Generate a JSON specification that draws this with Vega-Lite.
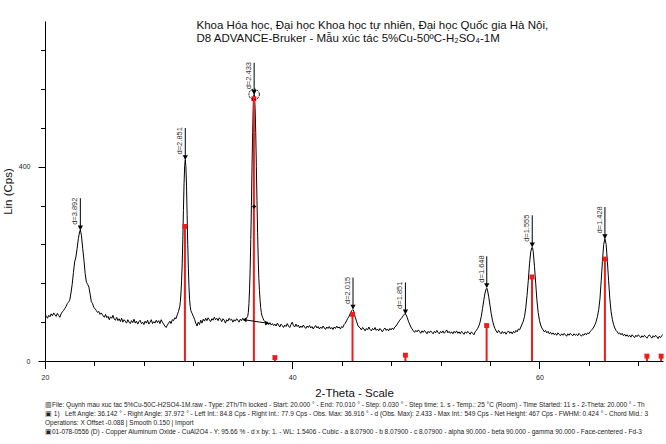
{
  "$schema": "https://vega.github.io/schema/vega-lite/v6.json",
  "width": 618,
  "height": 340,
  "autosize": "none",
  "padding": {"left": 45, "top": 21, "right": 3, "bottom": 83},
  "background": "white",
  "config": {
    "font": "Liberation Sans",
    "view": {"stroke": null},
    "axis": {"domainColor": "#000", "domainWidth": 1, "tickColor": "#000", "tickWidth": 1, "labelColor": "#222", "labelFont": "Liberation Sans", "titleFont": "Liberation Sans", "titleFontWeight": "normal", "titleColor": "#111", "grid": false, "labelOverlap": false, "labelFlush": false}
  },
  "title": {
    "text": [
      "▥File: Quynh mau xuc tac 5%Cu-50C-H2SO4-1M.raw - Type: 2Th/Th locked - Start: 20.000 ° - End: 70.010 ° - Step: 0.030 ° - Step time: 1. s - Temp.: 25 °C (Room) - Time Started: 11 s - 2-Theta: 20.000 ° - Th",
      "▣ 1)\u00a0\u00a0 Left Angle: 36.142 ° - Right Angle: 37.972 ° - Left Int.: 84.8 Cps - Right Int.: 77.9 Cps - Obs. Max: 36.916 ° - d (Obs. Max): 2.433 - Max Int.: 549 Cps - Net Height: 467 Cps - FWHM: 0.424 ° - Chord Mid.: 3",
      "\u00a0\u00a0\u00a0Operations: X Offset -0.088 | Smooth 0.150 | Import",
      "▣01-078-0556 (D) - Copper Aluminum Oxide - CuAl2O4 - Y: 95.66 % - d x by: 1. - WL: 1.5406 - Cubic - a 8.07900 - b 8.07900 - c 8.07900 - alpha 90.000 - beta 90.000 - gamma 90.000 - Face-centered - Fd-3"
    ],
    "orient": "bottom",
    "anchor": "start",
    "frame": "group",
    "font": "Liberation Sans",
    "fontSize": 6.5,
    "fontWeight": "normal",
    "color": "#222",
    "lineHeight": 8.9,
    "offset": 3,
    "baseline": "top"
  },
  "datasets": {
    "xrd": [
      {"t":20.0,"i":97},{"t":20.1,"i":92},{"t":20.2,"i":88},{"t":20.3,"i":94},{"t":20.4,"i":91},{"t":20.5,"i":97},{"t":20.6,"i":93},{"t":20.7,"i":99},{"t":20.8,"i":95},{"t":20.9,"i":92},{"t":21.0,"i":98},{"t":21.1,"i":94},{"t":21.2,"i":90},{"t":21.3,"i":97},{"t":21.4,"i":101},{"t":21.5,"i":104},{"t":21.6,"i":108},
      {"t":21.7,"i":112},{"t":21.8,"i":118},{"t":21.9,"i":121},{"t":22.0,"i":125},{"t":22.1,"i":140},{"t":22.2,"i":158},{"t":22.3,"i":182},{"t":22.4,"i":204},{"t":22.5,"i":214},{"t":22.6,"i":232},{"t":22.7,"i":252},{"t":22.8,"i":266},{"t":22.86,"i":270},{"t":22.95,"i":258},{"t":23.05,"i":232},{"t":23.15,"i":208},{"t":23.25,"i":180},{"t":23.35,"i":162},{"t":23.45,"i":158},{"t":23.55,"i":152},{"t":23.65,"i":138},{"t":23.75,"i":122},{"t":23.85,"i":118},{"t":23.95,"i":110},{"t":24.05,"i":108},{"t":24.15,"i":104},{"t":24.25,"i":100},{"t":24.35,"i":102},{"t":24.45,"i":96},{"t":24.55,"i":99},
      {"t":24.7,"i":93},{"t":24.8,"i":90},{"t":24.9,"i":96},{"t":25.0,"i":89},{"t":25.1,"i":92},{"t":25.2,"i":85},{"t":25.3,"i":91},{"t":25.4,"i":88},{"t":25.5,"i":94},{"t":25.6,"i":86},{"t":25.7,"i":84},{"t":25.8,"i":90},{"t":25.9,"i":83},{"t":26.0,"i":87},{"t":26.1,"i":81},{"t":26.2,"i":88},{"t":26.3,"i":80},{"t":26.4,"i":85},{"t":26.5,"i":82},{"t":26.6,"i":78},{"t":26.7,"i":85},{"t":26.8,"i":80},{"t":26.9,"i":77},{"t":27.0,"i":83},{"t":27.1,"i":79},{"t":27.2,"i":86},{"t":27.3,"i":78},{"t":27.4,"i":82},{"t":27.5,"i":76},{"t":27.6,"i":81},{"t":27.7,"i":84},{"t":27.8,"i":77},{"t":27.9,"i":80},{"t":28.0,"i":75},{"t":28.1,"i":82},{"t":28.2,"i":78},{"t":28.3,"i":84},{"t":28.4,"i":76},{"t":28.5,"i":80},{"t":28.6,"i":85},{"t":28.7,"i":77},{"t":28.8,"i":81},{"t":28.9,"i":78},{"t":29.0,"i":84},{"t":29.1,"i":79},{"t":29.2,"i":83},{"t":29.3,"i":77},{"t":29.4,"i":85},{"t":29.5,"i":80},{"t":29.6,"i":76},{"t":29.7,"i":72},{"t":29.8,"i":69},{"t":29.9,"i":74},{"t":30.0,"i":78},{"t":30.1,"i":82},{"t":30.2,"i":77},{"t":30.3,"i":85},{"t":30.4,"i":83},{"t":30.5,"i":89},{"t":30.6,"i":87},{"t":30.7,"i":95},
      {"t":30.8,"i":102},{"t":30.9,"i":112},{"t":30.95,"i":122},{"t":31.0,"i":140},{"t":31.05,"i":165},{"t":31.1,"i":200},{"t":31.15,"i":250},{"t":31.2,"i":310},{"t":31.25,"i":365},{"t":31.3,"i":402},{"t":31.35,"i":415},{"t":31.4,"i":400},{"t":31.45,"i":360},{"t":31.5,"i":300},{"t":31.55,"i":240},{"t":31.6,"i":190},{"t":31.65,"i":152},{"t":31.7,"i":126},{"t":31.75,"i":112},{"t":31.8,"i":104},{"t":31.85,"i":101},{"t":31.9,"i":98},{"t":32.0,"i":92},
      {"t":32.1,"i":86},{"t":32.2,"i":78},{"t":32.3,"i":72},{"t":32.4,"i":80},{"t":32.5,"i":75},{"t":32.6,"i":84},{"t":32.7,"i":78},{"t":32.8,"i":86},{"t":32.9,"i":82},{"t":33.0,"i":88},{"t":33.1,"i":83},{"t":33.2,"i":89},{"t":33.3,"i":85},{"t":33.4,"i":81},{"t":33.5,"i":87},{"t":33.6,"i":84},{"t":33.7,"i":90},{"t":33.8,"i":85},{"t":33.9,"i":88},{"t":34.0,"i":83},{"t":34.1,"i":89},{"t":34.2,"i":86},{"t":34.3,"i":81},{"t":34.4,"i":87},{"t":34.5,"i":84},{"t":34.6,"i":78},{"t":34.7,"i":85},{"t":34.8,"i":82},{"t":34.9,"i":88},{"t":35.0,"i":84},{"t":35.1,"i":86},{"t":35.2,"i":80},{"t":35.3,"i":85},{"t":35.4,"i":82},{"t":35.5,"i":87},{"t":35.6,"i":84},{"t":35.7,"i":80},{"t":35.8,"i":86},{"t":35.9,"i":83},{"t":36.0,"i":88},{"t":36.1,"i":85},{"t":36.2,"i":86},{"t":36.3,"i":88},
      {"t":36.4,"i":92},{"t":36.45,"i":100},{"t":36.5,"i":118},{"t":36.55,"i":148},{"t":36.6,"i":190},{"t":36.65,"i":250},{"t":36.7,"i":320},{"t":36.75,"i":400},{"t":36.8,"i":470},{"t":36.85,"i":525},{"t":36.9,"i":548},{"t":36.92,"i":549},{"t":36.95,"i":545},{"t":37.0,"i":520},{"t":37.05,"i":470},{"t":37.1,"i":400},{"t":37.15,"i":330},{"t":37.2,"i":265},{"t":37.25,"i":210},{"t":37.3,"i":170},{"t":37.35,"i":145},{"t":37.4,"i":125},{"t":37.45,"i":110},{"t":37.5,"i":100},{"t":37.55,"i":94},{"t":37.6,"i":90},{"t":37.7,"i":84},{"t":37.8,"i":81},
      {"t":37.9,"i":78},{"t":38.0,"i":80},{"t":38.1,"i":75},{"t":38.2,"i":79},{"t":38.3,"i":74},{"t":38.4,"i":77},{"t":38.5,"i":73},{"t":38.6,"i":76},{"t":38.7,"i":72},{"t":38.8,"i":78},{"t":38.9,"i":74},{"t":39.0,"i":70},{"t":39.1,"i":76},{"t":39.2,"i":73},{"t":39.3,"i":69},{"t":39.4,"i":74},{"t":39.5,"i":71},{"t":39.6,"i":77},{"t":39.7,"i":72},{"t":39.8,"i":69},{"t":39.9,"i":75},{"t":40.0,"i":80},{"t":40.1,"i":73},{"t":40.2,"i":70},{"t":40.3,"i":76},{"t":40.4,"i":71},{"t":40.5,"i":74},{"t":40.6,"i":68},{"t":40.7,"i":72},{"t":40.8,"i":69},{"t":40.9,"i":74},{"t":41.0,"i":70},{"t":41.1,"i":67},{"t":41.2,"i":72},{"t":41.3,"i":69},{"t":41.4,"i":73},{"t":41.5,"i":68},{"t":41.6,"i":71},{"t":41.7,"i":66},{"t":41.8,"i":70},{"t":41.9,"i":73},{"t":42.0,"i":68},{"t":42.1,"i":71},{"t":42.2,"i":66},{"t":42.3,"i":70},{"t":42.4,"i":67},{"t":42.5,"i":72},{"t":42.6,"i":68},{"t":42.7,"i":65},{"t":42.8,"i":70},{"t":42.9,"i":67},{"t":43.0,"i":71},{"t":43.1,"i":66},{"t":43.2,"i":69},{"t":43.3,"i":65},{"t":43.4,"i":70},{"t":43.5,"i":67},{"t":43.6,"i":72},{"t":43.7,"i":68},{"t":43.8,"i":70},{"t":43.9,"i":66},{"t":44.0,"i":71},{"t":44.1,"i":69},{"t":44.2,"i":75},
      {"t":44.3,"i":78},{"t":44.4,"i":83},{"t":44.5,"i":88},{"t":44.6,"i":92},{"t":44.7,"i":98},{"t":44.8,"i":103},{"t":44.9,"i":106},{"t":44.95,"i":105},{"t":45.0,"i":100},{"t":45.1,"i":90},{"t":45.2,"i":82},{"t":45.3,"i":74},{"t":45.4,"i":70},
      {"t":45.5,"i":68},{"t":45.6,"i":64},{"t":45.7,"i":69},{"t":45.8,"i":66},{"t":45.9,"i":62},{"t":46.0,"i":67},{"t":46.1,"i":64},{"t":46.2,"i":70},{"t":46.3,"i":65},{"t":46.4,"i":62},{"t":46.5,"i":67},{"t":46.6,"i":64},{"t":46.7,"i":69},{"t":46.8,"i":63},{"t":46.9,"i":66},{"t":47.0,"i":62},{"t":47.1,"i":67},{"t":47.2,"i":64},{"t":47.3,"i":60},{"t":47.4,"i":65},{"t":47.5,"i":68},{"t":47.6,"i":63},{"t":47.7,"i":66},{"t":47.8,"i":62},{"t":47.9,"i":67},{"t":48.0,"i":64},{"t":48.1,"i":68},{"t":48.2,"i":65},{"t":48.3,"i":70},{"t":48.4,"i":72},{"t":48.5,"i":76},
      {"t":48.6,"i":80},{"t":48.7,"i":84},{"t":48.8,"i":87},{"t":48.9,"i":90},{"t":49.0,"i":94},{"t":49.1,"i":97},{"t":49.2,"i":96},{"t":49.3,"i":90},{"t":49.4,"i":82},{"t":49.5,"i":76},{"t":49.6,"i":70},{"t":49.7,"i":66},
      {"t":49.8,"i":62},{"t":49.9,"i":59},{"t":50.0,"i":63},{"t":50.1,"i":60},{"t":50.2,"i":64},{"t":50.3,"i":61},{"t":50.4,"i":57},{"t":50.5,"i":62},{"t":50.6,"i":59},{"t":50.7,"i":63},{"t":50.8,"i":60},{"t":50.9,"i":56},{"t":51.0,"i":61},{"t":51.1,"i":58},{"t":51.2,"i":62},{"t":51.3,"i":59},{"t":51.4,"i":56},{"t":51.5,"i":61},{"t":51.6,"i":58},{"t":51.7,"i":63},{"t":51.8,"i":59},{"t":51.9,"i":56},{"t":52.0,"i":61},{"t":52.1,"i":58},{"t":52.2,"i":62},{"t":52.3,"i":57},{"t":52.4,"i":60},{"t":52.5,"i":64},{"t":52.6,"i":58},{"t":52.7,"i":61},{"t":52.8,"i":57},{"t":52.9,"i":60},{"t":53.0,"i":56},{"t":53.1,"i":61},{"t":53.2,"i":58},{"t":53.3,"i":62},{"t":53.4,"i":57},{"t":53.5,"i":60},{"t":53.6,"i":56},{"t":53.7,"i":61},{"t":53.8,"i":58},{"t":53.9,"i":55},{"t":54.0,"i":60},{"t":54.1,"i":57},{"t":54.2,"i":61},{"t":54.3,"i":58},{"t":54.4,"i":55},{"t":54.5,"i":60},{"t":54.6,"i":57},{"t":54.7,"i":54},{"t":54.8,"i":60},{"t":54.9,"i":63},{"t":55.0,"i":67},
      {"t":55.1,"i":72},{"t":55.2,"i":80},{"t":55.3,"i":92},{"t":55.4,"i":108},{"t":55.5,"i":125},{"t":55.6,"i":140},{"t":55.7,"i":149},{"t":55.75,"i":150},{"t":55.8,"i":146},{"t":55.9,"i":132},{"t":56.0,"i":115},{"t":56.1,"i":98},{"t":56.2,"i":84},{"t":56.3,"i":74},{"t":56.4,"i":67},
      {"t":56.5,"i":62},{"t":56.6,"i":58},{"t":56.7,"i":63},{"t":56.8,"i":59},{"t":56.9,"i":56},{"t":57.0,"i":61},{"t":57.1,"i":57},{"t":57.2,"i":60},{"t":57.3,"i":55},{"t":57.4,"i":59},{"t":57.5,"i":62},{"t":57.6,"i":57},{"t":57.7,"i":60},{"t":57.8,"i":56},{"t":57.9,"i":61},{"t":58.0,"i":58},{"t":58.1,"i":63},{"t":58.2,"i":60},{"t":58.3,"i":66},{"t":58.4,"i":64},{"t":58.5,"i":70},
      {"t":58.6,"i":76},{"t":58.7,"i":82},{"t":58.8,"i":92},{"t":58.9,"i":110},{"t":59.0,"i":135},{"t":59.1,"i":165},{"t":59.2,"i":200},{"t":59.3,"i":225},{"t":59.4,"i":234},{"t":59.45,"i":233},{"t":59.5,"i":225},{"t":59.6,"i":195},{"t":59.7,"i":160},{"t":59.8,"i":125},{"t":59.9,"i":100},{"t":60.0,"i":84},{"t":60.1,"i":74},{"t":60.2,"i":68},
      {"t":60.3,"i":64},{"t":60.4,"i":60},{"t":60.5,"i":63},{"t":60.6,"i":58},{"t":60.7,"i":61},{"t":60.8,"i":56},{"t":60.9,"i":59},{"t":61.0,"i":55},{"t":61.1,"i":58},{"t":61.2,"i":54},{"t":61.3,"i":57},{"t":61.4,"i":53},{"t":61.5,"i":58},{"t":61.6,"i":55},{"t":61.7,"i":52},{"t":61.8,"i":56},{"t":61.9,"i":53},{"t":62.0,"i":57},{"t":62.1,"i":54},{"t":62.2,"i":51},{"t":62.3,"i":56},{"t":62.4,"i":53},{"t":62.5,"i":57},{"t":62.6,"i":54},{"t":62.7,"i":52},{"t":62.8,"i":56},{"t":62.9,"i":53},{"t":63.0,"i":55},{"t":63.1,"i":52},{"t":63.2,"i":57},{"t":63.3,"i":54},{"t":63.4,"i":51},{"t":63.5,"i":55},{"t":63.6,"i":53},{"t":63.7,"i":57},{"t":63.8,"i":54},{"t":63.9,"i":58},{"t":64.0,"i":56},{"t":64.1,"i":60},{"t":64.2,"i":63},{"t":64.3,"i":66},{"t":64.4,"i":70},
      {"t":64.5,"i":75},{"t":64.6,"i":82},{"t":64.7,"i":92},{"t":64.8,"i":106},{"t":64.9,"i":128},{"t":65.0,"i":165},{"t":65.1,"i":205},{"t":65.2,"i":240},{"t":65.3,"i":252},{"t":65.4,"i":240},{"t":65.5,"i":205},{"t":65.6,"i":165},{"t":65.7,"i":128},{"t":65.8,"i":102},{"t":65.9,"i":86},{"t":66.0,"i":75},{"t":66.1,"i":68},{"t":66.2,"i":63},
      {"t":66.3,"i":60},{"t":66.4,"i":56},{"t":66.5,"i":58},{"t":66.6,"i":54},{"t":66.7,"i":57},{"t":66.8,"i":52},{"t":66.9,"i":55},{"t":67.0,"i":51},{"t":67.1,"i":54},{"t":67.2,"i":50},{"t":67.3,"i":53},{"t":67.4,"i":49},{"t":67.5,"i":54},{"t":67.6,"i":51},{"t":67.7,"i":48},{"t":67.8,"i":53},{"t":67.9,"i":50},{"t":68.0,"i":54},{"t":68.1,"i":51},{"t":68.2,"i":48},{"t":68.3,"i":52},{"t":68.4,"i":49},{"t":68.5,"i":53},{"t":68.6,"i":50},{"t":68.7,"i":47},{"t":68.8,"i":51},{"t":68.9,"i":54},{"t":69.0,"i":50},{"t":69.1,"i":47},{"t":69.2,"i":52},{"t":69.3,"i":49},{"t":69.4,"i":53},{"t":69.5,"i":50},{"t":69.6,"i":46},{"t":69.7,"i":51},{"t":69.8,"i":48},{"t":69.9,"i":52},{"t":70.0,"i":55}
    ],
    "ref": [
      {"t":31.32,"i":277},{"t":36.9,"i":540},{"t":38.6,"i":7},{"t":44.88,"i":96},{"t":49.16,"i":12},{"t":55.73,"i":73},{"t":59.4,"i":173},{"t":65.3,"i":210},{"t":68.7,"i":10},{"t":69.85,"i":10}
    ],
    "peaks": [
      {"t":22.86,"i":270,"label":"d=3.892"},{"t":31.35,"i":415,"label":"d=2.851"},{"t":36.92,"i":549,"label":"d=2.433"},{"t":44.92,"i":107,"label":"d=2.015"},{"t":49.16,"i":97,"label":"d=1.851"},{"t":55.74,"i":151,"label":"d=1.648"},{"t":59.42,"i":235,"label":"d=1.555"},{"t":65.3,"i":252,"label":"d=1.428"}
    ],
    "chord": [
      {"t":36.142,"i":84.8,"end":"L"},{"t":37.972,"i":77.9,"end":"R"}
    ],
    "chordmid": [{"t":36.92,"i":318}]
  },
  "layer": [
    {
      "data": {"name": "xrd"},
      "mark": {"type": "line", "color": "#000", "strokeWidth": 1, "clip": true},
      "encoding": {
        "x": {"field": "t", "type": "quantitative", "scale": {"domain": [20, 70], "nice": false, "zero": false},
          "axis": {
            "title": "2-Theta - Scale", "titleFontSize": 11.5, "titlePadding": 7,
            "values": [20,21,22,23,24,25,26,27,28,29,30,31,32,33,34,35,36,37,38,39,40,41,42,43,44,45,46,47,48,49,50,51,52,53,54,55,56,57,58,59,60,61,62,63,64,65,66,67,68,69,70],
            "labelExpr": "datum.value % 10 === 0 ? datum.label : ''",
            "labelFontSize": 7, "labelPadding": 5,
            "tickSize": {"condition": [{"test": "datum.value % 10 === 0", "value": 7.5}, {"test": "datum.value % 5 === 0", "value": 6}], "value": 4.5}
          }},
        "y": {"field": "i", "type": "quantitative", "scale": {"domain": [0, 700], "nice": false, "zero": true},
          "axis": {
            "title": "Lin (Cps)", "titleFontSize": 11.5, "titlePadding": 5,
            "values": [0,10,20,30,40,50,60,70,80,90,100,110,120,130,140,150,160,170,180,190,200,210,220,230,240,250,260,270,280,290,300,310,320,330,340,350,360,370,380,390,400,410,420,430,440,450,460,470,480,490,500,510,520,530,540,550,560,570,580,590,600,610,620,630,640,650,660,670,680,690,700],
            "labelExpr": "datum.value % 100 === 0 ? datum.label : ''",
            "labelFontSize": 7, "labelPadding": 8,
            "tickSize": {"condition": [{"test": "datum.value % 100 === 0", "value": 7}, {"test": "datum.value % 50 === 0", "value": 5.5}], "value": 4.5}
          }}
      }
    },
    {
      "data": {"name": "ref"},
      "mark": {"type": "rule", "color": "#ee1c1c", "strokeWidth": 2},
      "encoding": {
        "x": {"field": "t", "type": "quantitative"},
        "y": {"field": "i", "type": "quantitative"},
        "y2": {"datum": 0}
      }
    },
    {
      "data": {"name": "ref"},
      "mark": {"type": "point", "shape": "square", "filled": true, "color": "#ee1c1c", "size": 24, "opacity": 1},
      "encoding": {
        "x": {"field": "t", "type": "quantitative"},
        "y": {"field": "i", "type": "quantitative"}
      }
    },
    {
      "data": {"name": "chord"},
      "mark": {"type": "line", "color": "#000", "strokeWidth": 1},
      "encoding": {
        "x": {"field": "t", "type": "quantitative"},
        "y": {"field": "i", "type": "quantitative"}
      }
    },
    {
      "data": {"name": "chord"},
      "mark": {"type": "point", "filled": true, "color": "#000", "size": 22, "opacity": 1},
      "encoding": {
        "x": {"field": "t", "type": "quantitative"},
        "y": {"field": "i", "type": "quantitative"},
        "shape": {"field": "end", "type": "nominal", "scale": {"domain": ["L", "R"], "range": ["triangle-left", "triangle-right"]}, "legend": null}
      }
    },
    {
      "data": {"name": "chordmid"},
      "mark": {"type": "point", "shape": "cross", "filled": true, "color": "#000", "size": 14, "opacity": 1},
      "encoding": {
        "x": {"field": "t", "type": "quantitative"},
        "y": {"field": "i", "type": "quantitative"}
      }
    },
    {
      "data": {"name": "peaks"},
      "mark": {"type": "tick", "orient": "vertical", "size": 31, "thickness": 1, "color": "#000", "yOffset": -16, "opacity": 1},
      "encoding": {
        "x": {"field": "t", "type": "quantitative"},
        "y": {"field": "i", "type": "quantitative"}
      }
    },
    {
      "data": {"name": "peaks"},
      "mark": {"type": "point", "shape": "triangle-down", "filled": true, "color": "#000", "size": 28, "yOffset": -2, "opacity": 1},
      "encoding": {
        "x": {"field": "t", "type": "quantitative"},
        "y": {"field": "i", "type": "quantitative"}
      }
    },
    {
      "data": {"name": "peaks"},
      "transform": [{"filter": "datum.label == 'd=2.433'"}],
      "mark": {"type": "point", "shape": "circle", "filled": false, "color": "#000", "size": 110, "strokeWidth": 1, "strokeDash": [2, 1], "opacity": 1},
      "encoding": {
        "x": {"field": "t", "type": "quantitative"},
        "y": {"field": "i", "type": "quantitative"}
      }
    },
    {
      "data": {"name": "peaks"},
      "mark": {"type": "text", "angle": 270, "align": "left", "baseline": "bottom", "font": "Liberation Sans", "fontSize": 7.5, "color": "#333", "xOffset": -1, "yOffset": -5},
      "encoding": {
        "x": {"field": "t", "type": "quantitative"},
        "y": {"field": "i", "type": "quantitative"},
        "text": {"field": "label"}
      }
    },
    {
      "data": {"values": [{}]},
      "mark": {"type": "text", "text": ["Khoa Hóa học, Đại học Khoa học tự nhiên, Đại học Quốc gia Hà Nội,", "D8 ADVANCE-Bruker - Mẫu xúc tác 5%Cu-50ºC-H₂SO₄-1M"], "align": "left", "baseline": "alphabetic", "font": "Liberation Sans", "fontSize": 11.5, "lineHeight": 12.5, "color": "#111"},
      "encoding": {
        "x": {"datum": 32.26, "type": "quantitative"},
        "y": {"datum": 683, "type": "quantitative"}
      }
    }
  ]
}
